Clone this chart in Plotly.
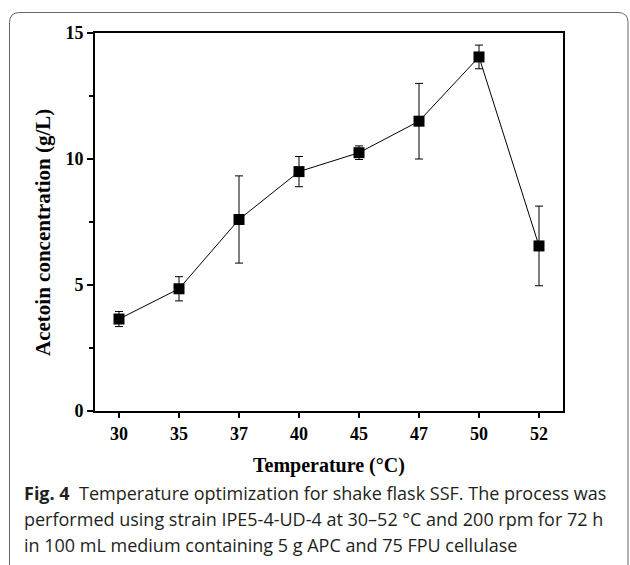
import plotly.graph_objects as go

temperatures = ["30", "35", "37", "40", "45", "47", "50", "52"]
acetoin = [3.65, 4.85, 7.6, 9.5, 10.25, 11.5, 14.05, 6.55]
acetoin_err = [0.3, 0.48, 1.73, 0.6, 0.27, 1.5, 0.47, 1.58]

W, H = 630, 565
ML, MR, MT, MB = 95, 67, 33, 154
PW, PH = W - ML - MR, H - MT - MB


def px(x):
    return (x - ML) / PW


def py(y):
    return (H - MB - y) / PH


fig = go.Figure()
fig.add_trace(go.Scatter(
    x=temperatures, y=acetoin,
    mode="lines+markers",
    line=dict(color="black", width=1),
    marker=dict(symbol="square", size=11, color="black"),
    error_y=dict(type="data", array=acetoin_err, visible=True,
                 color="black", thickness=1, width=4),
    showlegend=False,
))

serif_bold = dict(family="Liberation Serif", size=18, color="black", weight="bold")

fig.update_layout(
    width=W, height=H, autosize=False,
    margin=dict(l=ML, r=MR, t=MT, b=MB, pad=0, autoexpand=False),
    paper_bgcolor="white", plot_bgcolor="white",
    xaxis=dict(type="category", range=[-0.4, 7.4], showline=True, mirror=True,
               linecolor="black", linewidth=2, ticks="outside", ticklen=5,
               tickwidth=1.5, tickcolor="black", showgrid=False, zeroline=False,
               tickfont=serif_bold, automargin=False),
    yaxis=dict(range=[0, 15], tickvals=[0, 5, 10, 15], showline=True, mirror=True,
               linecolor="black", linewidth=2, ticks="outside", ticklen=6,
               tickwidth=1.5, tickcolor="black", showgrid=False, zeroline=False,
               tickfont=serif_bold, automargin=False,
               minor=dict(ticks="outside", ticklen=4, tickwidth=1.5,
                          tickcolor="black", tickvals=[2.5, 7.5, 12.5])),
)

# card border with rounded top corners
L, T, R, B, r = 9.5, 12.5, 628, 580, 10
card = dict(xref="paper", yref="paper", line=dict(color="#666666", width=1))
fig.add_shape(type="line", x0=px(L), x1=px(L), y0=py(B), y1=py(T + r), **card)
fig.add_shape(type="line", x0=px(R), x1=px(R), y0=py(B), y1=py(T + r), **card)
fig.add_shape(type="line", x0=px(L + r), x1=px(R - r), y0=py(T), y1=py(T), **card)
fig.add_shape(type="path",
              path=f"M {px(L)},{py(T + r)} Q {px(L)},{py(T)} {px(L + r)},{py(T)}", **card)
fig.add_shape(type="path",
              path=f"M {px(R - r)},{py(T)} Q {px(R)},{py(T)} {px(R)},{py(T + r)}", **card)

fig.add_annotation(text="Acetoin concentration (g/L)", textangle=-90,
                   x=px(43), y=py(233), xref="paper", yref="paper",
                   xanchor="center", yanchor="middle", showarrow=False,
                   font=dict(serif_bold, size=21))
fig.add_annotation(text="Temperature (°C)",
                   x=px(329), y=py(465), xref="paper", yref="paper",
                   xanchor="center", yanchor="middle", showarrow=False,
                   font=dict(serif_bold, size=20))

cap_font = dict(family="Open Sans", size=18, color="#231f20")
lines = [
    "<b>Fig. 4</b>  Temperature optimization for shake flask SSF. The process was",
    "performed using strain IPE5-4-UD-4 at 30–52 °C and 200 rpm for 72 h",
    "in 100 mL medium containing 5 g APC and 75 FPU cellulase",
]
for i, t in enumerate(lines):
    fig.add_annotation(text=t, x=px(22), y=py(493 + 26 * i), xref="paper", yref="paper",
                       xanchor="left", yanchor="middle", showarrow=False,
                       font=cap_font, align="left")

fig.write_html("out.html", config={"displayModeBar": False},
               post_script="document.body.style.margin='0';document.body.style.overflow='hidden';")
